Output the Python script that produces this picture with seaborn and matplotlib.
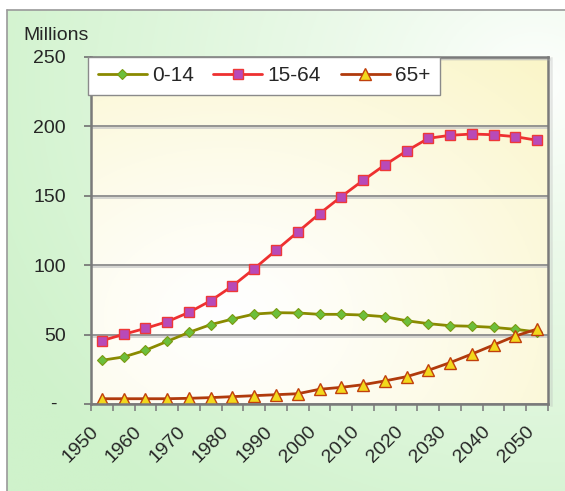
import numpy as np
import matplotlib
matplotlib.use("Agg")
import matplotlib.pyplot as plt
import matplotlib.patheffects as pe
import seaborn as sns

# Population by broad age group, millions (1950-2050, 5-year steps)
years = [1950, 1955, 1960, 1965, 1970, 1975, 1980, 1985, 1990, 1995, 2000,
         2005, 2010, 2015, 2020, 2025, 2030, 2035, 2040, 2045, 2050]
age_0_14 = [31.5, 33.9, 38.7, 45.1, 51.6, 57.2, 61.2, 64.8, 65.8, 65.6, 64.6,
            64.6, 64.1, 62.9, 60.0, 57.9, 56.4, 56.0, 55.2, 53.8, 51.9]
age_15_64 = [45.6, 50.2, 54.5, 59.3, 66.0, 74.4, 85.0, 97.5, 110.7, 123.9, 137.1,
             149.4, 161.1, 172.2, 182.3, 191.4, 193.6, 194.5, 194.0, 192.6, 190.0]
age_65_plus = [3.8, 3.8, 3.8, 3.8, 4.1, 4.6, 5.3, 6.0, 6.7, 7.4, 10.6,
               12.0, 13.9, 16.6, 19.7, 24.3, 29.8, 36.0, 42.5, 49.0, 54.0]
series_names = ["0-14", "15-64", "65+"]
y_ticks = [0, 50, 100, 150, 200, 250]
y_tick_labels = ["", "50", "100", "150", "200", "250"]
x_tick_years = [1950, 1960, 1970, 1980, 1990, 2000, 2010, 2020, 2030, 2040, 2050]

sns.set_style("white")
plt.rcParams["font.family"] = ["Liberation Sans", "DejaVu Sans"]

W, H = 565, 491
fig = plt.figure(figsize=(W / 100, H / 100), dpi=100)
fig.patch.set_facecolor("white")

# Soft green backdrop with a gray frame line on top and left
bg = fig.add_axes([7 / W, 0, 1 - 7 / W, 1 - 10 / H], zorder=-10)
u, v = np.meshgrid(np.linspace(0, 1, 200), np.linspace(0, 1, 200))
d = np.sqrt((0.95 - u) ** 2 + (0.85 - v) ** 2)
g = np.clip(d / 1.1, 0, 1) ** 0.8
green = np.array([207, 242, 203]) / 255
img = 1 - g[..., None] * (1 - green)
bg.imshow(img, origin="lower", extent=[0, 1, 0, 1], aspect="auto")
bg.set_xlim(0, 1)
bg.set_ylim(0, 1)
bg.axis("off")
fig.add_artist(plt.Line2D([7 / W, 1], [1 - 10 / H, 1 - 10 / H], color="#9a9a9a", lw=1.2))
fig.add_artist(plt.Line2D([7 / W, 7 / W], [0, 1 - 10 / H], color="#9a9a9a", lw=1.2))

# Plot area
left, right, bottom, top = 91, 548, 404, 57
ax = fig.add_axes([left / W, 1 - bottom / H, (right - left) / W, (bottom - top) / H])

# Cream-yellow fill of the plot area
pu, pv = np.meshgrid(np.linspace(0, 1, 200), np.linspace(0, 1, 200))
pd_ = np.sqrt((pu - 0.3) ** 2 + (pv - 0.25) ** 2)
pg = np.clip(pd_ / 1.05, 0, 1) ** 1.2
yellow = np.array([250, 245, 198]) / 255
pimg = 1 - pg[..., None] * (1 - yellow)
ax.imshow(pimg, origin="lower", extent=[1947.5, 2052.5, 0, 250], aspect="auto", zorder=0)

shadow = [pe.SimpleLineShadow(offset=(0, -1.5), shadow_color="#c8c8c8", alpha=0.8), pe.Normal()]

sns.lineplot(x=years, y=age_0_14, ax=ax, color="#8a8a00", lw=2.0, marker="D", markersize=5.5,
             markerfacecolor="#6cbf3c", markeredgecolor="#7a9a10", markeredgewidth=0.8,
             label=series_names[0], zorder=5)
sns.lineplot(x=years, y=age_15_64, ax=ax, color="#ee3030", lw=2.0, marker="s", markersize=7,
             markerfacecolor="#b84ab8", markeredgecolor="#ee3838", markeredgewidth=1.0,
             label=series_names[1], zorder=5)
sns.lineplot(x=years, y=age_65_plus, ax=ax, color="#b03a0c", lw=2.0, marker="^", markersize=9,
             markerfacecolor="#f2d81c", markeredgecolor="#c0400c", markeredgewidth=1.0,
             label=series_names[2], zorder=6)

ax.set_xlim(1947.5, 2052.5)
ax.set_ylim(0, 250)
ax.set_xlabel("")
ax.set_ylabel("")

# Y axis
ax.set_yticks(y_ticks)
ax.set_yticklabels(y_tick_labels, fontsize=14)
ax.tick_params(axis="y", direction="out", length=5, width=1.2, color="#707070", pad=13, left=True)
ax.text(-0.075, 0, "-", transform=ax.transAxes, ha="right", va="center", fontsize=14)
ax.yaxis.grid(True, color="#8c8c8c", lw=1.3)
for gl in ax.get_ygridlines():
    gl.set_path_effects(shadow)
ax.set_axisbelow(False)
for gl in ax.get_ygridlines():
    gl.set_zorder(1)

# X axis: ticks at category boundaries, labels every 10 years
boundaries = [y - 2.5 for y in years] + [years[-1] + 2.5]
ax.set_xticks(boundaries, minor=True)
ax.set_xticks(x_tick_years)
ax.set_xticklabels([str(y) for y in x_tick_years], rotation=45, ha="right", fontsize=14)
ax.tick_params(axis="x", which="major", length=0, pad=14, bottom=True)
ax.tick_params(axis="x", which="minor", direction="out", length=5, width=1.2, color="#808080", bottom=True)

for name, sp in ax.spines.items():
    sp.set_visible(True)
    sp.set_color("#7a7a7a")
    sp.set_linewidth(1.8)
    sp.set_zorder(7)
ax.spines["right"].set_path_effects([pe.SimpleLineShadow(offset=(2, -1), shadow_color="#b0b0b0"), pe.Normal()])
ax.spines["top"].set_path_effects([pe.SimpleLineShadow(offset=(1, -1.5), shadow_color="#b0b0b0"), pe.Normal()])

leg = ax.legend(ncol=3, loc="upper left", bbox_to_anchor=(-0.006, 1.0), borderaxespad=0,
                fontsize=15, frameon=True, fancybox=False, framealpha=1, edgecolor="#8a8a8a",
                handlelength=2.35, handletextpad=0.25, columnspacing=0.95, borderpad=0.45)
leg.get_frame().set_linewidth(1.0)
leg.set_zorder(10)

fig.text(23 / W, 1 - 36 / H, "Millions", ha="left", va="center", fontsize=14)

fig.savefig("out.png", dpi=100)
